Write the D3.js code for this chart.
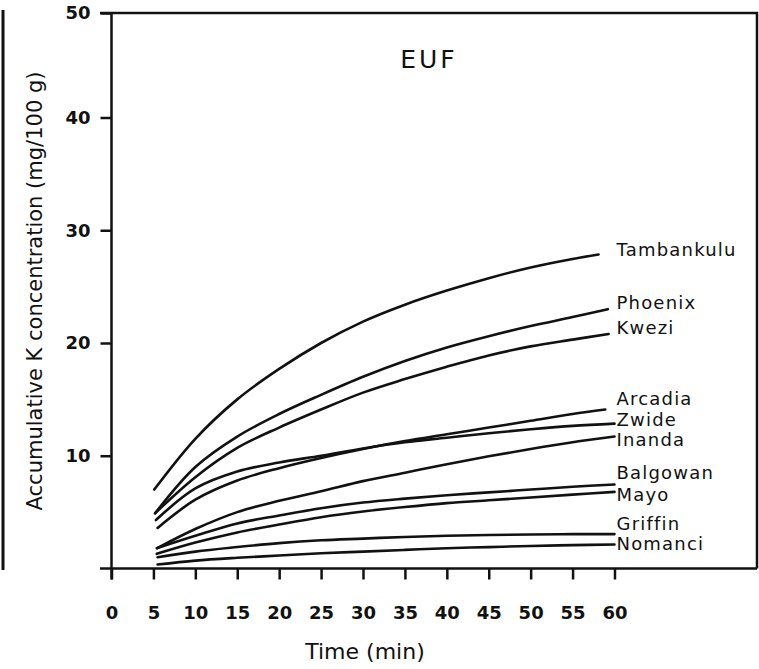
<!DOCTYPE html>
<html>
<head>
<meta charset="utf-8">
<script src="https://cdn.jsdelivr.net/npm/d3@7"></script>
<style>
  body { margin: 0; background: #fff; }
  text { font-family: "DejaVu Sans", sans-serif; fill: #111; }
</style>
</head>
<body>
<div id="viz"></div>
<script>
// cultivar names, in the order of the labels on the right
var cultivars = ["Tambankulu", "Phoenix", "Kwezi", "Arcadia", "Zwide",
                 "Inanda", "Balgowan", "Mayo", "Griffin", "Nomanci"];

// each curve: first time, then 10..55, then last time
var startTime = [5.1, 5.2, 5.2, 5.5, 5.3, 5.45, 5.4, 5.4, 5.5, 5.5];
var midTimes  = [10, 15, 20, 25, 30, 35, 40, 45, 50, 55];
var endTime   = [58.1, 59.2, 59.3, 58.9, 60, 60, 60, 60, 60, 60];

var tambankulu = [7.0, 11.5, 15.0, 17.7, 20.0, 21.9, 23.4, 24.65, 25.75, 26.7, 27.45, 27.85];
var phoenix    = [4.9, 9.0, 11.7, 13.7, 15.4, 17.0, 18.4, 19.6, 20.6, 21.5, 22.3, 23.0];
var kwezi      = [4.9, 8.1, 10.7, 12.5, 14.1, 15.6, 16.8, 17.9, 18.9, 19.7, 20.3, 20.8];
var arcadia    = [3.6, 6.1, 7.8, 8.9, 9.8, 10.6, 11.3, 11.9, 12.5, 13.1, 13.7, 14.1];
var zwide      = [4.3, 7.1, 8.6, 9.4, 10.0, 10.65, 11.2, 11.6, 12.0, 12.35, 12.65, 12.85];
var inanda     = [1.8, 3.5, 5.0, 6.0, 6.85, 7.75, 8.5, 9.25, 9.95, 10.6, 11.2, 11.7];
var balgowan   = [1.8, 2.9, 4.0, 4.7, 5.35, 5.85, 6.2, 6.5, 6.75, 7.0, 7.25, 7.45];
var mayo       = [1.3, 2.3, 3.2, 3.9, 4.55, 5.05, 5.45, 5.8, 6.05, 6.3, 6.55, 6.8];
var griffin    = [1.0, 1.5, 1.9, 2.25, 2.5, 2.65, 2.8, 2.9, 2.97, 3.02, 3.05, 3.05];
var nomanci    = [0.35, 0.7, 0.95, 1.15, 1.35, 1.5, 1.65, 1.8, 1.9, 2.0, 2.07, 2.13];

var seriesValues = [tambankulu, phoenix, kwezi, arcadia, zwide,
                    inanda, balgowan, mayo, griffin, nomanci];

// where each name sits (in K units)
var labelAt = [28.25, 23.55, 21.4, 15.1, 13.2, 11.4, 8.5, 6.6, 4.0, 2.2];

var xTicks = [0, 5, 10, 15, 20, 25, 30, 35, 40, 45, 50, 55, 60];
var yTicks = [10, 20, 30, 40, 50];

var W = 759, H = 669;

var svg = d3.select("#viz")
    .append("svg")
    .attr("width", W)
    .attr("height", H);

// plot box runs past 60 min on the right
var x = d3.scaleLinear().domain([0, 77]).range([111.5, 757]);
// top of the printed axis is squeezed a bit, so 40-50 is shorter
var y = d3.scaleLinear().domain([0, 40, 50]).range([568.5, 117.5, 13]);

// scan edge on the far left
svg.append("line")
    .attr("x1", 3).attr("x2", 3)
    .attr("y1", 10).attr("y2", 570)
    .attr("stroke", "#111")
    .attr("stroke-width", 3);

// frame: top and right
svg.append("path")
    .attr("d", "M" + 100 + "," + y(50) + "H" + x(77) + "V" + y(0))
    .attr("fill", "none")
    .attr("stroke", "#111")
    .attr("stroke-width", 2.5);

// x axis
var xAxis = svg.append("g")
    .attr("transform", "translate(0," + y(0) + ")")
    .call(d3.axisBottom(x).tickValues(xTicks).tickSize(11).tickSizeOuter(0));
xAxis.select(".domain").remove();
xAxis.append("line")
    .attr("x1", 100).attr("x2", x(77))
    .attr("stroke", "#111").attr("stroke-width", 2.5);
xAxis.selectAll(".tick line").attr("stroke", "#111").attr("stroke-width", 2.5);
xAxis.selectAll(".tick text")
    .attr("y", 44).attr("dy", "0.36em")
    .attr("font-size", 18)
    .attr("font-weight", "bold")
    .style("font-family", "'DejaVu Sans', sans-serif")
    .attr("fill", "#111");

// y axis
var yAxis = svg.append("g")
    .attr("transform", "translate(" + x(0) + ",0)")
    .call(d3.axisLeft(y).tickValues(yTicks).tickSize(11).tickSizeOuter(0).tickPadding(10));
yAxis.select(".domain").remove();
yAxis.append("line")
    .attr("y1", y(50)).attr("y2", y(0) + 11)
    .attr("stroke", "#111").attr("stroke-width", 2.5);
yAxis.selectAll(".tick line").attr("stroke", "#111").attr("stroke-width", 2.5);
yAxis.selectAll(".tick text")
    .attr("font-size", 18)
    .attr("font-weight", "bold")
    .style("font-family", "'DejaVu Sans', sans-serif")
    .attr("fill", "#111");

// curves
var line = d3.line()
    .x(function(d) { return x(d[0]); })
    .y(function(d) { return y(d[1]); })
    .curve(d3.curveCatmullRom.alpha(0.5));

seriesValues.forEach(function(vals, i) {
    var ts = [startTime[i]].concat(midTimes, [endTime[i]]);
    var pts = ts.map(function(t, j) { return [t, vals[j]]; });
    svg.append("path")
        .datum(pts)
        .attr("d", line)
        .attr("fill", "none")
        .attr("stroke", "#111")
        .attr("stroke-width", 2.6)
        .attr("stroke-linecap", "round");
});

// cultivar names
svg.selectAll(".name")
    .data(cultivars)
    .enter().append("text")
    .attr("class", "name")
    .attr("x", x(60) + 2)
    .attr("y", function(d, i) { return y(labelAt[i]); })
    .attr("dy", "0.36em")
    .attr("font-size", 18)
    .attr("letter-spacing", 1.2)
    .text(function(d) { return d; });

// panel title
svg.append("text")
    .attr("x", 429).attr("y", 68)
    .attr("text-anchor", "middle")
    .attr("font-size", 25)
    .attr("letter-spacing", 3)
    .text("EUF");

// axis titles
svg.append("text")
    .attr("x", 365).attr("y", 659)
    .attr("text-anchor", "middle")
    .attr("font-size", 22)
    .text("Time (min)");

svg.append("text")
    .attr("transform", "translate(42,291) rotate(-90)")
    .attr("text-anchor", "middle")
    .attr("font-size", 21)
    .text("Accumulative K concentration (mg/100 g)");
</script>
</body>
</html>
